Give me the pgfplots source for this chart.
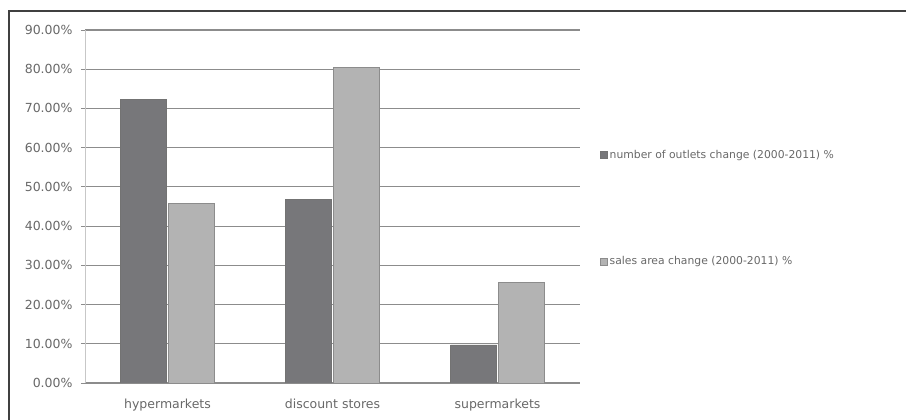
\documentclass[border=0pt]{standalone}
\usepackage{pgfplots}
\pgfplotsset{compat=1.18}
\usepackage{fontspec}
\setmainfont{DejaVu Sans}
\definecolor{darkbar}{HTML}{77777A}
\definecolor{lightbar}{HTML}{B3B3B3}
\definecolor{gridc}{HTML}{8C8C8C}
\definecolor{txt}{HTML}{686868}
\begin{document}
\begin{tikzpicture}
\path[use as bounding box] (-85pt,-37pt) rectangle (821pt,383pt);
\draw[color=black!75, line width=1.2pt] (-76pt,-37pt) -- (-76pt,372pt) -- (821pt,372pt);
\begin{axis}[
  at={(0pt,0pt)}, anchor=south west,
  scale only axis, width=495pt, height=353pt,
  xmin=-0.5, xmax=2.5, ymin=0, ymax=90,
  axis x line*=bottom, axis y line*=left,
  x axis line style={draw=gridc, line width=1.1pt},
  y axis line style={draw=black!22, line width=0.9pt},
  ybar=2pt, bar width=46pt,
  xtick={0,1,2},
  xticklabels={hypermarkets, discount stores, supermarkets},
  major x tick style={draw=none},
  extra x ticks={0.5,1.5,2.5},
  extra x tick labels={},
  extra x tick style={tick align=outside, major tick length=4pt, tick style={draw=gridc, line width=0.8pt}, grid=none},
  ytick={0,10,20,30,40,50,60,70,80,90},
  yticklabels={0.00\%,10.00\%,20.00\%,30.00\%,40.00\%,50.00\%,60.00\%,70.00\%,80.00\%,90.00\%},
  tick align=outside, major tick length=4pt,
  ytick style={draw=gridc, line width=0.8pt},
  ymajorgrids, grid style={draw=gridc, line width=1.1pt},
  xticklabel style={font=\fontsize{12.5}{14}\selectfont, text=txt, yshift=-8pt},
  yticklabel style={font=\fontsize{12.5}{14}\selectfont, text=txt, xshift=-5pt},
  legend style={draw=none, fill=none, at={(1.04,0.672)}, anchor=north west,
    font=\fontsize{10.8}{13}\selectfont, text=txt, row sep=93pt,
    legend cell align=left, inner xsep=0pt},
  legend image code/.code={\draw[#1] (0pt,-3.5pt) rectangle (7pt,3.5pt);},
]
\addplot[fill=darkbar, draw=black!55, line width=0.7pt] coordinates {(0,72.4) (1,46.9) (2,9.7)};
\addplot[fill=lightbar, draw=black!45, line width=0.7pt] coordinates {(0,45.7) (1,80.4) (2,25.6)};
\legend{number of outlets change (2000-2011) \%, sales area change (2000-2011) \%}
\end{axis}
\end{tikzpicture}
\end{document}
